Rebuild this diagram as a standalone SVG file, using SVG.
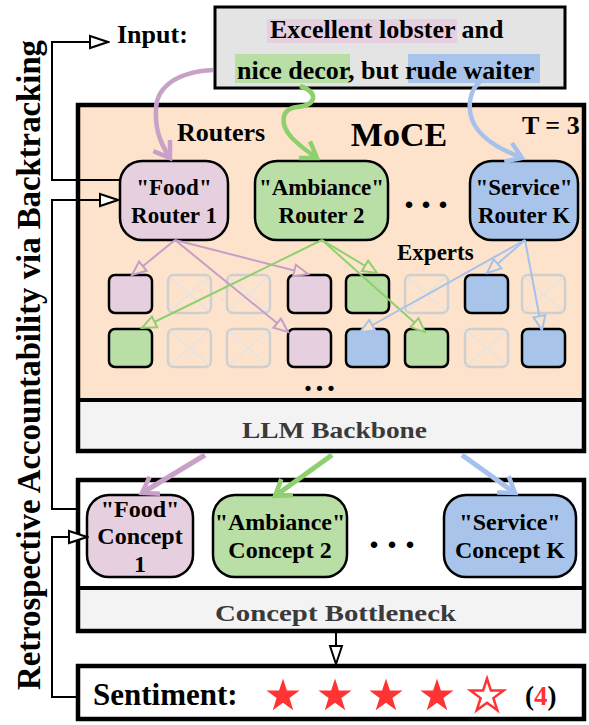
<svg xmlns="http://www.w3.org/2000/svg" width="589" height="725" viewBox="0 0 589 725">
<style>
text{font-family:"Liberation Serif","Times New Roman",serif;font-weight:bold;fill:#000}
.frame{fill:none;stroke:#000;stroke-width:4.5}
.rb{stroke:#000;stroke-width:2.5}
.pk{fill:#e6d0df}.gr{fill:#b9dea6}.bl{fill:#a9c4ea}
.ex{stroke:#000;stroke-width:2.5}
.fd{fill:none;stroke:#cfcfcf;stroke-width:2.5}
.fx{stroke:#e4e4e4;stroke-width:1.5}
.bt{fill:none;stroke:#000;stroke-width:2}
.gray{fill:#3a3a3a}
</style>
<defs>
<marker id="hp" markerUnits="userSpaceOnUse" markerWidth="18" markerHeight="16" refX="16" refY="8" orient="auto"><path d="M2,2 L16,8 L2,14 Z" fill="#fde3cb" stroke="#c59fc7" stroke-width="2"/></marker>
<marker id="hg" markerUnits="userSpaceOnUse" markerWidth="18" markerHeight="16" refX="16" refY="8" orient="auto"><path d="M2,2 L16,8 L2,14 Z" fill="#fde3cb" stroke="#8ed06e" stroke-width="2"/></marker>
<marker id="hb" markerUnits="userSpaceOnUse" markerWidth="18" markerHeight="16" refX="16" refY="8" orient="auto"><path d="M2,2 L16,8 L2,14 Z" fill="#fde3cb" stroke="#a6c2ec" stroke-width="2"/></marker>
<marker id="hk" markerUnits="userSpaceOnUse" markerWidth="22" markerHeight="16" refX="20" refY="8" orient="auto"><path d="M2,2 L20,8 L2,14 Z" fill="#fff" stroke="#000" stroke-width="2"/></marker>
<marker id="cp" markerUnits="userSpaceOnUse" markerWidth="24" markerHeight="24" refX="18" refY="12" orient="auto"><path d="M3,2 L18,12 L3,22" fill="none" stroke="#c9a0c8" stroke-width="4.5"/></marker>
<marker id="cg" markerUnits="userSpaceOnUse" markerWidth="24" markerHeight="24" refX="18" refY="12" orient="auto"><path d="M3,2 L18,12 L3,22" fill="none" stroke="#8ed06e" stroke-width="4.5"/></marker>
<marker id="cb" markerUnits="userSpaceOnUse" markerWidth="24" markerHeight="24" refX="18" refY="12" orient="auto"><path d="M3,2 L18,12 L3,22" fill="none" stroke="#a6c2ec" stroke-width="4.5"/></marker>
<polygon id="star" points="0,-17.5 3.9,-5.4 16.6,-5.4 6.4,2.1 10.3,14.2 0,6.7 -10.3,14.2 -6.4,2.1 -16.6,-5.4 -3.9,-5.4"/>
<g id="xbox"><rect x="0" y="0" width="43" height="38" rx="6" class="fd"/><path d="M2,2 L41,36 M41,2 L2,36" class="fx"/></g>
</defs>

<!-- side title -->
<text transform="translate(40,365) rotate(-90)" text-anchor="middle" font-size="33" textLength="650" lengthAdjust="spacingAndGlyphs">Retrospective Accountability via Backtracking</text>

<!-- Input -->
<g id="input">
<text x="117" y="43" font-size="26">Input:</text>
<rect x="215" y="7" width="350" height="81" fill="#e4e4e4" stroke="#000" stroke-width="3"/>
<rect x="267" y="19" width="190" height="24" class="pk"/>
<rect x="235" y="54" width="115" height="29" class="gr"/>
<rect x="408" y="54" width="132" height="29" class="bl"/>
<text x="270" y="38" font-size="26">Excellent lobster and</text>
<text x="237" y="79" font-size="26">nice decor, but rude waiter</text>
</g>

<!-- MoCE frame -->
<g id="moce">
<rect x="78" y="105" width="506" height="295" fill="#fde3cb"/>
<rect x="78" y="400" width="506" height="51" fill="#f3f3f3"/>
<rect x="78" y="105" width="506" height="346" class="frame"/>
<line x1="78" y1="400" x2="584" y2="400" stroke="#000" stroke-width="4"/>
<text x="177" y="141" font-size="26">Routers</text>
<text x="399" y="146" font-size="34" text-anchor="middle">MoCE</text>
<text x="522" y="134" font-size="26">T = 3</text>
<text x="397" y="260" font-size="23">Experts</text>
<text x="404" y="208" font-size="40" textLength="44" lengthAdjust="spacing">...</text>
<text x="304" y="391" font-size="32" textLength="31" lengthAdjust="spacing">...</text>
</g>
<g id="llm">
<text x="242" y="438" font-size="23" class="gray" textLength="185" lengthAdjust="spacingAndGlyphs">LLM Backbone</text>
</g>

<!-- Routers -->
<g id="router1"><rect x="120" y="161" width="108" height="79" rx="22" class="pk rb"/>
<text x="174" y="195" font-size="23" text-anchor="middle">"Food"</text><text x="174" y="223" font-size="23" text-anchor="middle">Router 1</text></g>
<g id="router2"><rect x="255" y="161" width="133" height="79" rx="22" class="gr rb"/>
<text x="321.5" y="195" font-size="23" text-anchor="middle">"Ambiance"</text><text x="321.5" y="223" font-size="23" text-anchor="middle">Router 2</text></g>
<g id="routerK"><rect x="470" y="161" width="108" height="79" rx="22" class="bl rb"/>
<text x="524" y="195" font-size="23" text-anchor="middle">"Service"</text><text x="524" y="223" font-size="23" text-anchor="middle">Router K</text></g>

<!-- Experts -->
<g id="experts">
<rect x="109" y="275" width="43" height="38" rx="6" class="pk ex"/>
<use href="#xbox" x="168" y="275"/>
<use href="#xbox" x="227" y="275"/>
<rect x="288" y="275" width="43" height="38" rx="6" class="pk ex"/>
<rect x="346" y="275" width="43" height="38" rx="6" class="gr ex"/>
<use href="#xbox" x="405" y="275"/>
<rect x="465" y="275" width="43" height="38" rx="6" class="bl ex"/>
<use href="#xbox" x="522" y="275"/>
<rect x="109" y="329" width="43" height="38" rx="6" class="gr ex"/>
<use href="#xbox" x="168" y="329"/>
<use href="#xbox" x="227" y="329"/>
<rect x="288" y="329" width="43" height="38" rx="6" class="pk ex"/>
<rect x="346" y="329" width="43" height="38" rx="6" class="bl ex"/>
<rect x="405" y="329" width="43" height="38" rx="6" class="gr ex"/>
<use href="#xbox" x="465" y="329"/>
<rect x="522" y="329" width="43" height="38" rx="6" class="bl ex"/>
</g>

<!-- Concept frame -->
<g id="concepts">
<rect x="78" y="588" width="506" height="43" fill="#f3f3f3"/>
<rect x="78" y="480" width="506" height="151" class="frame"/>
<line x1="78" y1="588" x2="584" y2="588" stroke="#000" stroke-width="4"/>
<text x="215" y="621" font-size="23" class="gray" textLength="241" lengthAdjust="spacingAndGlyphs">Concept Bottleneck</text>
<text x="369" y="548" font-size="40" textLength="46" lengthAdjust="spacing">...</text>
</g>
<g id="concept1"><rect x="87" y="495" width="106" height="82" rx="22" class="pk rb"/>
<text x="140" y="517" font-size="24" text-anchor="middle">"Food"</text><text x="140" y="544" font-size="24" text-anchor="middle">Concept</text><text x="140" y="572" font-size="24" text-anchor="middle">1</text></g>
<g id="concept2"><rect x="213" y="495" width="134" height="82" rx="22" class="gr rb"/>
<text x="280" y="530" font-size="24" text-anchor="middle">"Ambiance"</text><text x="280" y="558" font-size="24" text-anchor="middle">Concept 2</text></g>
<g id="conceptK"><rect x="444" y="495" width="132" height="82" rx="22" class="bl rb"/>
<text x="510" y="530" font-size="24" text-anchor="middle">"Service"</text><text x="510" y="558" font-size="24" text-anchor="middle">Concept K</text></g>

<!-- Sentiment -->
<g id="sentiment">
<rect x="78" y="666" width="506" height="53" fill="#fff" class="frame"/>
<text x="93" y="705" font-size="31">Sentiment:</text>
<use href="#star" x="283" y="696" fill="#ff3333"/>
<use href="#star" x="335" y="696" fill="#ff3333"/>
<use href="#star" x="386" y="696" fill="#ff3333"/>
<use href="#star" x="437" y="696" fill="#ff3333"/>
<use href="#star" x="487" y="696" fill="#fff" stroke="#ff3333" stroke-width="2.5"/>
<text x="525" y="705" font-size="27">(<tspan fill="#ff3333">4</tspan>)</text>
</g>

<!-- Connectors -->
<g id="connectors">
<path d="M213,70 C175,72 157,88 156,108 C155,125 158,140 170,158" fill="none" stroke="#c9a0c8" stroke-width="4.5" marker-end="url(#cp)"/>
<path d="M300,86 C318,92 318,105 297,107 C280,109 280,125 292,138 C300,146 308,152 317,158" fill="none" stroke="#8ed06e" stroke-width="4.5" marker-end="url(#cg)"/>
<path d="M482,80 C468,90 467,110 474,124 C484,142 505,151 522,158" fill="none" stroke="#a6c2ec" stroke-width="4.5" marker-end="url(#cb)"/>

<path d="M205,455 L142,493" fill="none" stroke="#c9a0c8" stroke-width="5" marker-end="url(#cp)"/>
<path d="M332,455 L275,496" fill="none" stroke="#8ed06e" stroke-width="5" marker-end="url(#cg)"/>
<path d="M462,455 L515,493" fill="none" stroke="#a6c2ec" stroke-width="5" marker-end="url(#cb)"/>

<g fill="none" stroke-width="2">
<path d="M175,240 L132,275" stroke="#c59fc7" marker-end="url(#hp)"/>
<path d="M175,240 L308,274" stroke="#c59fc7" marker-end="url(#hp)"/>
<path d="M175,240 L288,332" stroke="#c59fc7" marker-end="url(#hp)"/>
<path d="M322,240 L142,328" stroke="#8ed06e" marker-end="url(#hg)"/>
<path d="M322,240 L377,273" stroke="#8ed06e" marker-end="url(#hg)"/>
<path d="M322,240 L425,332" stroke="#8ed06e" marker-end="url(#hg)"/>
<path d="M525,240 L487,273" stroke="#a6c2ec" marker-end="url(#hb)"/>
<path d="M525,240 L360,332" stroke="#a6c2ec" marker-end="url(#hb)"/>
<path d="M525,240 L542,330" stroke="#a6c2ec" marker-end="url(#hb)"/>
</g>

<path d="M120,180 H52 V42 H108" class="bt" marker-end="url(#hk)"/>
<path d="M78,509 H52 V200 H118" class="bt" marker-end="url(#hk)"/>
<path d="M78,697 H52 V537 H87" class="bt" marker-end="url(#hk)"/>
<path d="M336,633 V664" class="bt" marker-end="url(#hk)"/>
</g>
</svg>
